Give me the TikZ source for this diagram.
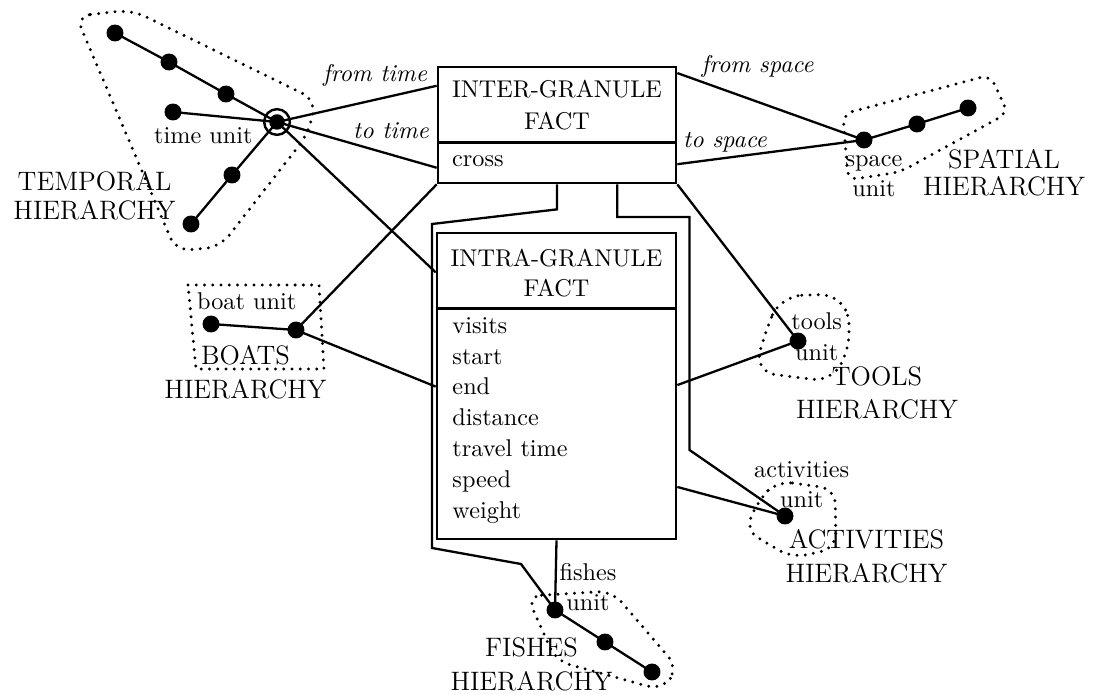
\documentclass[tikz,border=0pt]{standalone}
\usepackage{tikz}
\usetikzlibrary{calc}
\tikzset{
  factbox/.style={rectangle, draw, line width=1.1pt, inner sep=0pt},
  factline/.style={line width=1.1pt},
  title/.style={align=center, font=\fontsize{10}{#1}\selectfont, inner sep=0pt},
  title/.default=13.1pt,
  attr/.style={align=left, font=\fontsize{10}{12.7}\selectfont, inner sep=0pt},
  dot/.style={circle, fill, inner sep=0pt, minimum size=7pt},
  hub/.style={circle, draw, line width=1pt, inner sep=0pt, minimum size=10.6pt,
    path picture={\fill (path picture bounding box.center) circle (3.2pt);}},
  link/.style={line width=0.95pt},
  hull/.style={line width=1.35pt, line cap=round, dash pattern=on 0pt off 3.4pt},
  unitlbl/.style={align=center, font=\fontsize{10}{12.7}\selectfont, inner sep=0pt},
  hierlbl/.style={align=center, font=\fontsize{11}{#1}\selectfont, inner sep=0pt},
  hierlbl/.default=14pt,
  role/.style={font=\itshape, inner sep=0pt},
}

\begin{document}
\begin{tikzpicture}[x=0.4126pt, y=-0.4126pt]
\useasboundingbox (0,0) rectangle (1093,695);

%% ── FACT TABLES ─────────────────────────────────────────
\node[factbox, minimum width=98.2pt, minimum height=47.9pt] (inter) at (557,125) {};
\draw[factline] ($(inter.north west)!0.647!(inter.south west)$)
  -- ($(inter.north east)!0.647!(inter.south east)$);
\node[title] (interT) at (557,105) {INTER-GRANULE\\FACT};
\node[attr, anchor=base west] (interA) at (451.7,167) {cross};

\node[factbox, minimum width=98.6pt, minimum height=126.3pt] (intra) at (556.5,386) {};
\draw[factline] ($(intra.north west)!0.249!(intra.south west)$)
  -- ($(intra.north east)!0.249!(intra.south east)$);
\node[title=12.6pt] (intraT) at (556.5,273) {INTRA-GRANULE\\FACT};
\node[attr, anchor=north west] (intraA) at (452,317)
  {visits\\start\\end\\distance\\travel time\\speed\\weight};

%% ── TEMPORAL ────────────────────────────────────────────
\node[dot] (t1) at (115,33) {};
\node[dot] (t2) at (169,62) {};
\node[dot] (t3) at (226,94) {};
\node[hub] (thub) at (277,122) {};
\node[dot] (tu) at (173,112) {};
\node[dot] (t4) at (232,175) {};
\node[dot] (t5) at (191,224) {};
\draw[link] (t1.center) -- (t2.center) -- (t3.center) -- (thub.center);
\draw[link] (tu.center) -- (thub.center) -- (t4.center) -- (t5.center);
\node[unitlbl, anchor=base] (tuL) at (203.3,143.3) {time unit};
\node[hierlbl=12pt] (tempL) at (94.5,195.5) {TEMPORAL\\HIERARCHY};
\draw[hull, rounded corners=6pt] (76,16) -- (132,10) -- (316,100) -- (308,134)
  -- (220,247) -- (176,251) -- cycle;

\draw[link] (thub.center) -- ($(inter.north west)!0.17!(inter.south west)$);
\draw[link] (thub.center) -- ($(inter.north west)!0.86!(inter.south west)$);
\draw[link] (thub.center) -- ($(intra.north west)!0.132!(intra.south west)$);
\node[role, anchor=base] (fromT) at (375,81.7) {from time};
\node[role, anchor=base] (toT) at (391,138.3) {to time};

%% ── SPATIAL ─────────────────────────────────────────────
\node[dot] (s1) at (864,140) {};
\node[dot] (s2) at (917,124) {};
\node[dot] (s3) at (968,108) {};
\draw[link] (s1.center) -- (s2.center) -- (s3.center);
\draw[link] ($(inter.north east)!0.063!(inter.south east)$) -- (s1.center);
\draw[link] ($(inter.north east)!0.83!(inter.south east)$) -- (s1.center);
\node[role, anchor=base] (fromS) at (757.5,72.7) {from space};
\node[role, anchor=base] (toS) at (725,147.3) {to space};
\node[unitlbl] (suL) at (874,176.2) {space\\unit};
\node[hierlbl=11pt] (spatL) at (1004,172.5) {SPATIAL\\HIERARCHY};
\draw[hull, rounded corners=4pt] (843,114) -- (990,75) -- (1008,113) -- (900,172)
  -- (848,180) -- cycle;

%% ── BOATS ───────────────────────────────────────────────
\node[dot] (b1) at (211,324) {};
\node[dot] (b2) at (296,330) {};
\draw[link] (b1.center) -- (b2.center);
\draw[link] (b2.center) -- (inter.south west);
\draw[link] (b2.center) -- ($(intra.north west)!0.502!(intra.south west)$);
\node[unitlbl, anchor=base] (buL) at (246.7,310) {boat unit};
\node[hierlbl] (boatL) at (245.5,372.2) {BOATS\\HIERARCHY};
\draw[hull] (188,285) -- (319,285) -- (324,369) -- (196,369) -- cycle;

%% ── TOOLS ───────────────────────────────────────────────
\node[dot] (tl) at (798,341) {};
\draw[link] (inter.south east) -- (tl.center);
\draw[link] ($(intra.north east)!0.497!(intra.south east)$) -- (tl.center);
\node[unitlbl] (tlL) at (816.7,337) {tools\\unit};
\node[hierlbl=13.75pt] (toolL) at (877,392.6) {TOOLS\\HIERARCHY};
\draw[hull, rounded corners=9pt] (780,296) -- (842,294) -- (853,335) -- (834,382)
  -- (754,372) -- (766,330) -- cycle;

%% ── ACTIVITIES ──────────────────────────────────────────
\node[dot] (ac) at (785,516) {};
\draw[link] ($(intra.north east)!0.827!(intra.south east)$) -- (ac.center);
\draw[link] ($(inter.south west)!0.75!(inter.south east)$) |- (689.5,217)
  -- (689.5,450) -- (ac.center);
\node[unitlbl] (acL) at (801.7,484.6) {activities\\unit};
\node[hierlbl=14.2pt] (actL) at (866.5,556.4) {ACTIVITIES\\HIERARCHY};
\draw[hull, rounded corners=6pt] (778,481) -- (835,489) -- (836,548) -- (792,558)
  -- (745,530) -- (760,498) -- cycle;

%% ── FISHES ──────────────────────────────────────────────
\node[dot] (f1) at (555,610) {};
\node[dot] (f2) at (605,642) {};
\node[dot] (f3) at (652,672) {};
\draw[link] (f1.center) -- (f2.center) -- (f3.center);
\draw[link] (intra.south) -- (f1.center);
\draw[link] (inter.south) -- ++(0,25) -- (432,224) -- (432,548) -- (521,564)
  -- (f1.center);
\node[unitlbl] (fuL) at (588,587) {fishes\\unit};
\node[hierlbl=13.75pt] (fishL) at (531.5,664.3) {FISHES\\HIERARCHY};
\draw[hull, rounded corners=6pt] (527,596) -- (612,591) -- (678,668) -- (662,690)
  -- (556,661) -- cycle;

\end{tikzpicture}
\end{document}
